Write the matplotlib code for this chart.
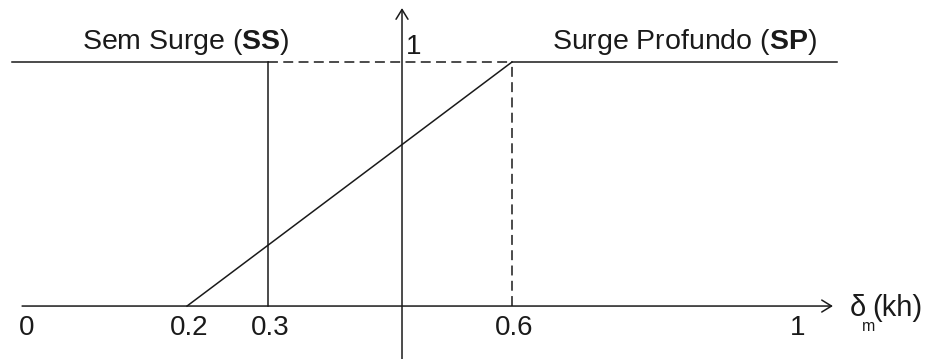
import matplotlib
matplotlib.use("Agg")
import matplotlib.pyplot as plt

# Surge classification diagram: membership of the surge class vs delta_m(kh)
ramp_x = [0.2, 0.6]          # linear transition from no surge to deep surge
ramp_y = [0.0, 1.0]
ss_limit = 0.3               # upper limit of "Sem Surge"
sp_limit = 0.6               # lower limit of "Surge Profundo"
axis_x = 0.4646              # position of the vertical (membership) axis
x_ticks = [0.0, 0.2, 0.3, 0.6]
x_tick_labels = ["0", "0.2", "0.3", "0.6"]
x_end_label = "1"
y_label = "1"

ink = "#1a1a1a"
lw = 1.1
dash = (6.5, 3.5)
fs = 20

plt.rcParams["font.family"] = ["Liberation Sans", "DejaVu Sans"]
plt.rcParams["mathtext.fontset"] = "custom"
plt.rcParams["mathtext.rm"] = "Liberation Sans"
plt.rcParams["mathtext.bf"] = "Liberation Sans:bold"

fig = plt.figure(figsize=(9.31, 3.59), dpi=100)
ax = fig.add_axes([0, 0, 1, 1])
ax.set_xlim(-0.0302, 1.1157)
ax.set_ylim(-0.217, 1.254)
ax.axis("off")

# upper level y = 1: solid, dashed between the limits, solid
ax.plot([-0.015, ss_limit], [1, 1], color=ink, lw=lw)
ax.plot([ss_limit, sp_limit], [1, 1], color=ink, lw=lw, dashes=dash)
ax.plot([sp_limit, 1.0], [1, 1], color=ink, lw=lw)

# limit markers
ax.plot([ss_limit, ss_limit], [0, 1], color=ink, lw=lw)
ax.plot([sp_limit, sp_limit], [0, 1], color=ink, lw=lw, dashes=dash)

# ramp
ax.plot(ramp_x, ramp_y, color=ink, lw=lw)

# axes with open arrowheads
arrow = dict(arrowstyle="->,head_length=7,head_width=4.3", mutation_scale=1,
             color=ink, lw=lw, shrinkA=0, shrinkB=0)
ax.annotate("", xy=(0.995, 0), xytext=(-0.003, 0), arrowprops=arrow)
ax.annotate("", xy=(axis_x, 1.221), xytext=(axis_x, -0.217), arrowprops=arrow)

# tick labels
for xv, lab in zip(x_ticks, x_tick_labels):
    ax.text(xv + 0.002, -0.119, lab, ha="center", va="baseline", fontsize=fs, color=ink)
ax.text(0.951, -0.119, x_end_label, ha="center", va="baseline", fontsize=fs, color=ink)
ax.text(0.4695, 1.033, y_label, ha="left", va="baseline", fontsize=fs, color=ink)

# axis name: delta_m(kh)
ax.text(1.0160, -0.041, "δ", ha="left", va="baseline", fontsize=21, color=ink)
ax.text(1.0310, -0.1025, "m", ha="left", va="baseline", fontsize=11.5, color=ink)
ax.text(1.0440, -0.041, "(kh)", ha="left", va="baseline", fontsize=21, color=ink)

# region names
ax.text(0.199, 1.055, r"Sem Surge ($\mathbf{SS}$)", ha="center", va="baseline",
        fontsize=20.5, color=ink)
ax.text(0.812, 1.055, r"Surge Profundo ($\mathbf{SP}$)", ha="center", va="baseline",
        fontsize=20.5, color=ink)

fig.savefig("out.png", dpi=100, facecolor="white")
